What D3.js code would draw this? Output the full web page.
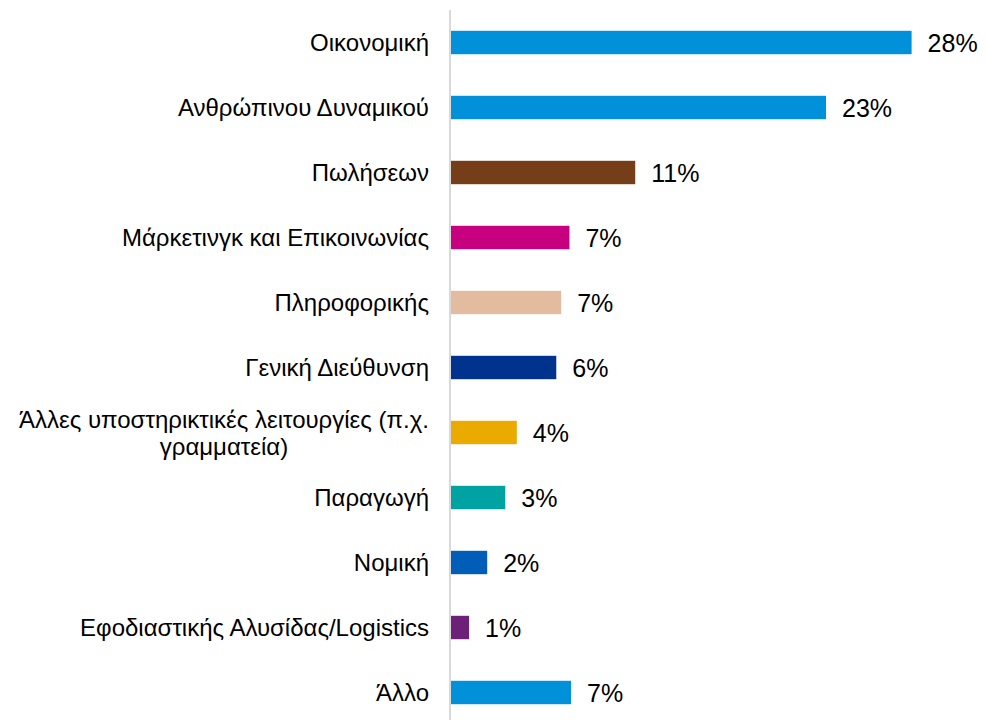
<!DOCTYPE html>
<html>
<head>
  <meta charset="utf-8">
  <title>Bar chart</title>
  <script src="https://d3js.org/d3.v7.min.js"></script>
  <style>
    body { margin: 0; background: #fff; }
    svg { font-family: "Liberation Sans", Arial, sans-serif; }
  </style>
</head>
<body>
<div id="chart"></div>
<script>
  // data
  var categories = [
    "Οικονομική",
    "Ανθρώπινου Δυναμικού",
    "Πωλήσεων",
    "Μάρκετινγκ και Επικοινωνίας",
    "Πληροφορικής",
    "Γενική Διεύθυνση",
    "Άλλες υποστηρικτικές λειτουργίες (π.χ.|γραμματεία)",
    "Παραγωγή",
    "Νομική",
    "Εφοδιαστικής Αλυσίδας/Logistics",
    "Άλλο"
  ];
  var values = [28.0, 22.8, 11.2, 7.2, 6.7, 6.4, 4.0, 3.3, 2.2, 1.1, 7.3];
  var colors = ["#0091DA", "#0091DA", "#763E18", "#C6007E", "#E3BC9F", "#00338D",
                "#EAAA00", "#00A3A1", "#005EB8", "#6D2077", "#0091DA"];

  var width = 985, height = 720;
  var margin = { top: 10, left: 451 };

  var svg = d3.select("#chart").append("svg")
    .attr("width", width)
    .attr("height", height);

  var x = d3.scaleLinear()
    .domain([0, 30])
    .range([margin.left, margin.left + 30 * 16.45]);

  var y = d3.scaleBand()
    .domain(categories)
    .range([margin.top, 725])
    .paddingInner(0.64)
    .paddingOuter(0.32);

  // axis line
  svg.append("line")
    .attr("x1", margin.left - 1).attr("x2", margin.left - 1)
    .attr("y1", margin.top).attr("y2", height)
    .attr("stroke", "#d9d9d9")
    .attr("stroke-width", 2);

  svg.selectAll(".bar")
    .data(values)
    .enter().append("rect")
    .attr("class", "bar")
    .attr("x", x(0))
    .attr("y", function (d, i) { return y(categories[i]); })
    .attr("width", function (d) { return x(d) - x(0); })
    .attr("height", y.bandwidth())
    .attr("fill", function (d, i) { return colors[i]; });

  // value labels
  svg.selectAll(".val")
    .data(values)
    .enter().append("text")
    .attr("class", "val")
    .attr("x", function (d) { return x(d) + 16; })
    .attr("y", function (d, i) { return y(categories[i]) + y.bandwidth() / 2; })
    .attr("dy", "0.36em")
    .attr("font-size", 25)
    .attr("fill", "#000")
    .text(function (d) { return Math.round(d) + "%"; });

  // category labels
  var labelRight = 429;
  categories.forEach(function (c, i) {
    var lines = c.split("|");
    var cy = y(c) + y.bandwidth() / 2;
    var t = svg.append("text")
      .attr("font-size", 24)
      .attr("fill", "#000");
    if (lines.length == 1) {
      t.attr("x", labelRight).attr("y", cy).attr("dy", "0.35em")
        .attr("text-anchor", "end").text(c);
    } else {
      var first = t.append("tspan").text(lines[0])
        .attr("x", labelRight).attr("y", cy - 13).attr("dy", "0.35em")
        .attr("text-anchor", "end");
      var w = first.node().getComputedTextLength();
      t.append("tspan").text(lines[1])
        .attr("x", labelRight - w / 2).attr("y", cy + 14).attr("dy", "0.35em")
        .attr("text-anchor", "middle");
    }
  });
</script>
</body>
</html>
